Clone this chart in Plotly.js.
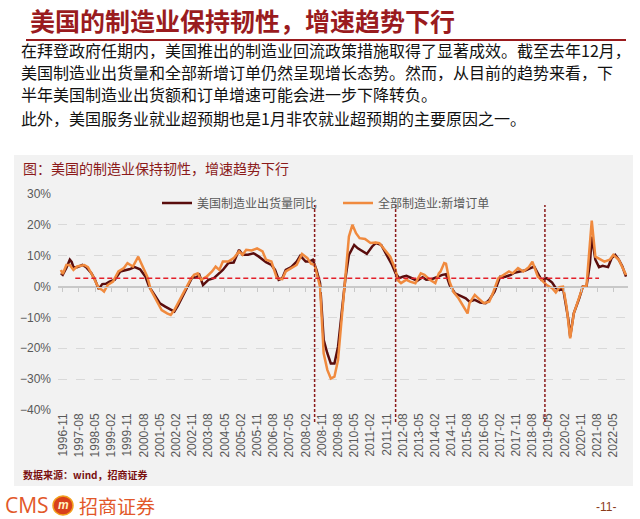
<!DOCTYPE html>
<html><head><meta charset="utf-8">
<script src="https://cdn.plot.ly/plotly-3.0.1.min.js"></script>
<style>html,body{margin:0;padding:0;background:#fff;} #chart{width:640px;height:519px;}</style>
</head><body><div id="chart"></div>
<script>
const seriesNames = ['美国制造业出货量同比', '全部制造业:新增订单'];
const shipDates = ['1996-10','1996-11','1997-01','1997-03','1997-04','1997-05','1997-07','1997-10','1997-12','1998-03','1998-05','1998-07','1998-09','1998-11','1999-01','1999-04','1999-07','1999-10','1999-12','2000-03','2000-06','2000-09','2000-11','2001-02','2001-05','2001-08','2001-11','2002-01','2002-03','2002-06','2002-09','2002-11','2003-01','2003-03','2003-05','2003-08','2003-11','2004-01','2004-04','2004-07','2004-10','2005-01','2005-03','2005-06','2005-09','2005-12','2006-02','2006-04','2006-07','2006-09','2006-11','2007-01','2007-03','2007-06','2007-09','2007-11','2008-02','2008-04','2008-06','2008-08','2008-10','2008-12','2009-02','2009-04','2009-06','2009-08','2009-10','2009-12','2010-02','2010-05','2010-07','2010-10','2010-12','2011-03','2011-05','2011-08','2011-11','2012-02','2012-04','2012-06','2012-08','2012-10','2013-01','2013-04','2013-07','2013-09','2013-12','2014-03','2014-06','2014-08','2014-10','2015-01','2015-04','2015-07','2015-09','2015-12','2016-03','2016-06','2016-08','2016-11','2017-02','2017-05','2017-08','2017-10','2018-01','2018-04','2018-07','2018-09','2018-11','2019-01','2019-04','2019-07','2019-09','2019-11','2020-01','2020-04','2020-05','2020-07','2020-10','2020-12','2021-02','2021-04','2021-05','2021-07','2021-09','2021-11','2022-02','2022-04','2022-06','2022-08','2022-10','2022-12'];
const shipValues = [4.3,3.8,6.0,8.7,8.0,6.3,6.3,7.0,6.3,4.3,2.2,-0.8,0.8,0.9,1.6,2.2,4.9,5.2,5.6,6.3,5.6,3.2,0.0,-2.7,-5.4,-6.5,-7.6,-8.1,-6.3,-2.7,1.1,3.0,2.9,3.8,0.5,2.2,2.7,3.8,5.4,7.6,7.8,11.9,10.3,10.3,10.8,9.7,8.7,7.9,7.0,5.4,2.2,2.7,5.4,6.3,8.1,10.0,8.1,8.1,8.7,5.4,1.1,-17.3,-21.6,-24.9,-24.9,-19.5,-8.7,2.2,10.3,13.5,12.4,11.4,10.6,13.0,14.1,13.5,10.3,7.0,4.3,2.7,3.2,3.5,2.7,1.9,3.0,2.2,2.4,3.2,3.8,4.0,0.5,-2.2,-3.0,-3.8,-4.9,-4.3,-5.2,-5.4,-4.3,-1.6,3.2,3.2,3.8,4.5,4.9,5.2,6.0,6.5,4.3,2.2,2.7,1.3,-0.5,-1.1,-0.5,-10.8,-16.2,-8.7,-3.8,0.0,0.0,7.6,16.2,8.7,6.3,6.7,6.3,9.2,10.3,8.7,6.5,3.2];
const orderDates = ['1996-10','1996-11','1997-01','1997-03','1997-05','1997-07','1997-11','1998-01','1998-04','1998-07','1998-09','1998-10','1998-12','1999-03','1999-06','1999-09','1999-11','2000-02','2000-05','2000-07','2000-10','2000-12','2001-03','2001-06','2001-09','2001-11','2002-01','2002-04','2002-07','2002-10','2002-12','2003-02','2003-04','2003-07','2003-10','2003-12','2004-02','2004-04','2004-07','2004-10','2005-01','2005-03','2005-05','2005-08','2005-11','2006-02','2006-04','2006-07','2006-10','2007-01','2007-03','2007-06','2007-09','2007-12','2008-03','2008-05','2008-07','2008-09','2008-10','2008-12','2009-02','2009-04','2009-06','2009-08','2009-10','2009-12','2010-02','2010-04','2010-06','2010-08','2010-11','2011-02','2011-05','2011-07','2011-10','2012-01','2012-04','2012-05','2012-07','2012-10','2012-12','2013-03','2013-06','2013-08','2013-11','2014-02','2014-04','2014-05','2014-07','2014-08','2014-10','2014-12','2015-03','2015-06','2015-08','2015-09','2015-12','2016-02','2016-05','2016-08','2016-10','2017-01','2017-04','2017-07','2017-09','2017-12','2018-03','2018-06','2018-08','2018-11','2019-01','2019-04','2019-07','2019-09','2019-11','2020-01','2020-03','2020-05','2020-07','2020-10','2020-12','2021-02','2021-04','2021-05','2021-07','2021-10','2021-12','2022-03','2022-05','2022-08','2022-10','2022-12'];
const orderValues = [5.4,4.1,7.0,7.0,5.4,6.5,7.0,6.3,3.2,-0.5,-1.1,-1.6,0.5,1.6,4.9,6.0,7.6,6.5,9.7,7.0,3.2,-1.1,-4.3,-7.6,-8.7,-9.2,-7.6,-4.3,-1.1,2.2,3.8,4.3,2.2,3.2,4.9,6.5,5.4,8.1,8.1,9.2,11.4,10.3,11.9,11.7,12.4,11.4,8.7,8.1,2.7,2.4,4.9,6.0,7.0,10.6,9.2,7.4,7.0,2.2,0.0,-21.6,-27.0,-29.8,-29.2,-23.8,-10.8,2.2,16.2,20.0,17.3,15.7,15.4,14.1,14.3,14.1,11.9,9.7,5.4,2.2,1.1,2.2,1.6,1.1,4.3,3.8,2.2,1.1,4.3,4.9,7.6,7.4,1.6,-1.6,-3.8,-7.0,-8.7,-5.4,-2.7,-3.8,-5.4,-4.9,-2.2,2.7,3.8,4.9,4.3,6.0,4.9,6.3,8.1,3.2,2.2,0.5,-0.5,-1.9,-0.2,0.0,-6.5,-16.8,-8.7,-3.2,0.0,0.2,15.2,21.4,9.7,8.7,8.1,8.7,10.3,8.7,6.0,3.8];
const tickLabels = ['1996-11','1997-08','1998-05','1999-02','1999-11','2000-08','2001-05','2002-02','2002-11','2003-08','2004-05','2005-02','2005-11','2006-08','2007-05','2008-02','2008-11','2009-08','2010-05','2011-02','2011-11','2012-08','2013-05','2014-02','2014-11','2015-08','2016-05','2017-02','2017-11','2018-08','2019-05','2020-02','2020-11','2021-08','2022-05'];
const meanLevel = 2.7;
const meanSpan = ['1997-06', '2021-09'];
const markerDates = ['2008-07', '2012-04', '2019-03'];
const slideTitle = '美国的制造业保持韧性，增速趋势下行';
const bodyLines = [
  '在拜登政府任期内，美国推出的制造业回流政策措施取得了显著成效。截至去年12月，',
  '美国制造业出货量和全部新增订单仍然呈现增长态势。然而，从目前的趋势来看，下',
  '半年美国制造业出货额和订单增速可能会进一步下降转负。',
  '此外，美国服务业就业超预期也是1月非农就业超预期的主要原因之一。'
];
const chartTitle = '图：美国的制造业保持韧性，增速趋势下行';
const sourceNote = '数据来源：wind，招商证券';
const brandLatin = 'CMS';
const brandName = '招商证券';
const pageNo = '-11-';

// page geometry (pixels)
const W = 640, H = 519, L = 58, R = 628, T = 194, B = 410;
const px = x => (x - L) / (R - L);
const py = y => (B - y) / (B - T);
const CJK = '"Noto Sans CJK SC", "Noto Sans", sans-serif';
const SANS = '"Liberation Sans", Arial, sans-serif';
const DARKRED = '#9a1b1e';

const traces = [
  { x: shipDates, y: shipValues, name: seriesNames[0], type: 'scatter', mode: 'lines',
    line: { color: '#5a0d0d', width: 2.5 } },
  { x: orderDates, y: orderValues, name: seriesNames[1], type: 'scatter', mode: 'lines',
    line: { color: '#f08a3e', width: 2.5 } },
  { x: [], y: [], xaxis: 'x2', yaxis: 'y', showlegend: false, type: 'scatter', mode: 'lines' }
];

const bodyY = [50, 72, 94, 118];
const annotations = [
  { text: slideTitle, x: px(28), y: py(20), font: { family: CJK, size: 25, color: DARKRED, weight: 700 } },
  ...bodyLines.map((t, i) => ({ text: t, x: px(19), y: py(bodyY[i]), font: { family: CJK, size: 16, color: '#111' } })),
  { text: chartTitle, x: px(21), y: py(168), font: { family: CJK, size: 14, color: '#8b1a1a' } },
  { text: sourceNote, x: px(21), y: py(474), font: { family: CJK, size: 10, color: '#7a1010', weight: 700 } },
  { text: brandLatin, x: px(3), y: py(505), font: { family: '"Open Sans", sans-serif', size: 21, color: '#e2582a' } },
  { text: '<i><b>m</b></i>', x: px(63), y: py(505), xanchor: 'center', font: { family: SANS, size: 12, color: '#fff3c0' } },
  { text: brandName, x: px(77), y: py(505), font: { family: CJK, size: 19, color: '#e2582a' } },
  { text: pageNo, x: px(594), y: py(507), font: { family: SANS, size: 12, color: '#8b3a1a' } }
].map(a => Object.assign({ xref: 'paper', yref: 'paper', xanchor: 'left', yanchor: 'middle', showarrow: false }, a));

const shapes = [
  { type: 'rect', xref: 'paper', yref: 'paper', x0: px(14), x1: px(633), y0: py(155), y1: py(486),
    fillcolor: '#f2f2f2', line: { width: 0 }, layer: 'below' },
  { type: 'line', xref: 'paper', yref: 'paper', x0: px(26), x1: px(626), y0: py(40), y1: py(40),
    line: { color: DARKRED, width: 2 } },
  { type: 'circle', xref: 'paper', yref: 'paper', x0: px(53), x1: px(73), y0: py(496), y1: py(515),
    fillcolor: '#d8401c', line: { color: '#f2a01e', width: 1.5 } },
  { type: 'line', xref: 'x', yref: 'y', x0: meanSpan[0], x1: meanSpan[1], y0: meanLevel, y1: meanLevel,
    line: { color: '#e3202a', width: 1.5, dash: '5px,3px' } },
  ...markerDates.map(d => ({ type: 'line', xref: 'x', yref: 'paper', x0: d, x1: d, y0: py(422), y1: py(205),
    line: { color: '#8b1a1a', width: 1.5, dash: '3px,2px' } }))
];

const layout = {
  width: W, height: H,
  margin: { l: L, r: W - R, t: T, b: H - B, pad: 0 },
  paper_bgcolor: '#ffffff', plot_bgcolor: 'rgba(0,0,0,0)',
  showlegend: true,
  legend: { orientation: 'h', x: px(157), y: py(203), xanchor: 'left', yanchor: 'middle',
    bgcolor: 'rgba(0,0,0,0)', entrywidth: 136, entrywidthmode: 'pixels', itemwidth: 30,
    font: { family: CJK, size: 12, color: '#595959' } },
  xaxis: { type: 'date', range: ['1996-08-13', '2023-01-04'],
    tickmode: 'array', tickvals: tickLabels, ticktext: tickLabels, tickangle: -90,
    tickfont: { family: SANS, size: 12, color: '#595959' },
    showgrid: false, zeroline: false, showline: false, ticks: '' },
  xaxis2: { type: 'date', matches: 'x', overlaying: 'x', anchor: 'free', position: py(286.7), side: 'bottom',
    tickmode: 'array', tickvals: tickLabels, showticklabels: false,
    ticks: 'outside', ticklen: 4, tickcolor: '#c8c8c8', tickwidth: 1,
    showline: true, linecolor: '#c8c8c8', linewidth: 1, showgrid: false, zeroline: false },
  yaxis: { range: [-40, 30], dtick: 10, tick0: 0, ticksuffix: '%',
    tickfont: { family: SANS, size: 12, color: '#595959' },
    gridcolor: '#d9d9d9', griddash: 'dash', gridwidth: 1,
    zeroline: true, zerolinecolor: '#c8c8c8', zerolinewidth: 1, showline: false, ticks: '',
    ticklabelstandoff: 6 },
  annotations, shapes
};

Plotly.newPlot('chart', traces, layout, { staticPlot: true, displayModeBar: false });
</script></body></html>
